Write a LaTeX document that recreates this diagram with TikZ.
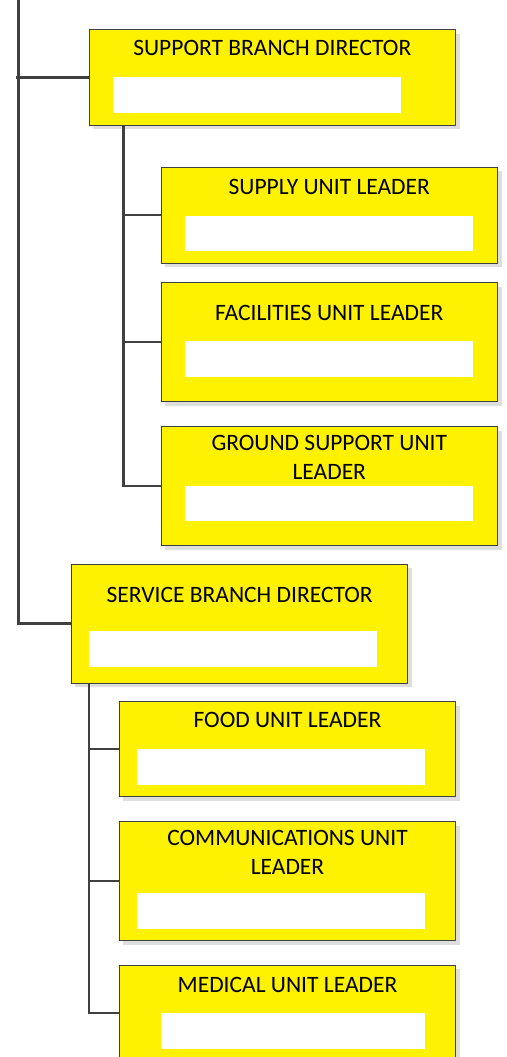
\documentclass[tikz,border=0pt]{standalone}
\usepackage{fontspec}
\setmainfont{Carlito}
\usetikzlibrary{shadows}

\begin{document}
\begin{tikzpicture}[x=1pt,y=-1pt]

        \useasboundingbox (0,0) rectangle (506,1057);
        \clip (0,0) rectangle (506,1057);

        % boxes
        \begin{scope}[every node/.style={draw=black!75, line width=1pt, fill=yellow, inner sep=0pt,
            minimum width=336.5pt, general shadow={fill=black!13, shadow xshift=4pt, shadow yshift=-4pt}}]
          \node[minimum width=366.5pt, minimum height=95pt] (sbd) at (272.3,77.5) {};
          \node[minimum height=95.7pt] (sul) at (329.3,215.2) {};
          \node[minimum height=119pt] (ful) at (329.3,342.2) {};
          \node[minimum height=119pt] (gsl) at (329.3,486.2) {};
          \node[minimum height=119pt] (vbd) at (239.7,623.5) {};
          \node[minimum height=95.3pt] (fdl) at (287.5,749.3) {};
          \node[minimum height=119pt] (col) at (287.5,881.2) {};
          \node[minimum height=95.3pt] (mel) at (287.5,1012.7) {};
        \end{scope}

        % blank fields
        \begin{scope}[every node/.style={fill=white, inner sep=0pt, minimum width=288pt, minimum height=35.5pt}]
          \node (sbd-f) at (257,95) {};
          \node (sul-f) at (329,233.3) {};
          \node (ful-f) at (329,358.9) {};
          \node (gsl-f) at (329,503.3) {};
          \node (vbd-f) at (233,648.8) {};
          \node (fdl-f) at (281.2,767.2) {};
          \node (col-f) at (281.2,910.8) {};
          \node[minimum width=264pt] (mel-f) at (293,1031) {};
        \end{scope}

        % titles (two-line ones sit on their last line)
        \begin{scope}[every node/.style={anchor=base, inner sep=0pt, align=center,
            font=\fontsize{23.5}{29}\selectfont}]
          \node (sbd-t) at (272.3,55.7) {SUPPORT BRANCH DIRECTOR};
          \node (sul-t) at (329.3,194) {SUPPLY UNIT LEADER};
          \node (ful-t) at (329.3,320) {FACILITIES UNIT LEADER};
          \node (gsl-t) at (329.3,479) {GROUND SUPPORT UNIT\\LEADER};
          \node (vbd-t) at (239.7,602) {SERVICE BRANCH DIRECTOR};
          \node (fdl-t) at (287.5,727.7) {FOOD UNIT LEADER};
          \node (col-t) at (287.5,874.3) {COMMUNICATIONS UNIT\\LEADER};
          \node (mel-t) at (287.5,992.3) {MEDICAL UNIT LEADER};
        \end{scope}

        % connectors
        \coordinate (top) at (18.5,0);
        \coordinate (tap) at (15.5,77.5);
        \coordinate (sbus) at (123.5,0);
        \coordinate (vbus) at (89,0);

        \begin{scope}[every path/.style={draw=black!75, line width=2.2pt}]
          \path (top) |- (vbd.west);
          \path (tap) -- (sbd.west);
          \path (sbus |- sbd.south) |- (gsl.west);
          \path (sbus |- sul.west) -- (sul.west);
          \path (sbus |- ful.west) -- (ful.west);
          \path (vbus |- vbd.south) |- (mel.west);
          \path (vbus |- fdl.west) -- (fdl.west);
          \path (vbus |- col.west) -- (col.west);
        \end{scope}

      \end{tikzpicture}
\end{document}
